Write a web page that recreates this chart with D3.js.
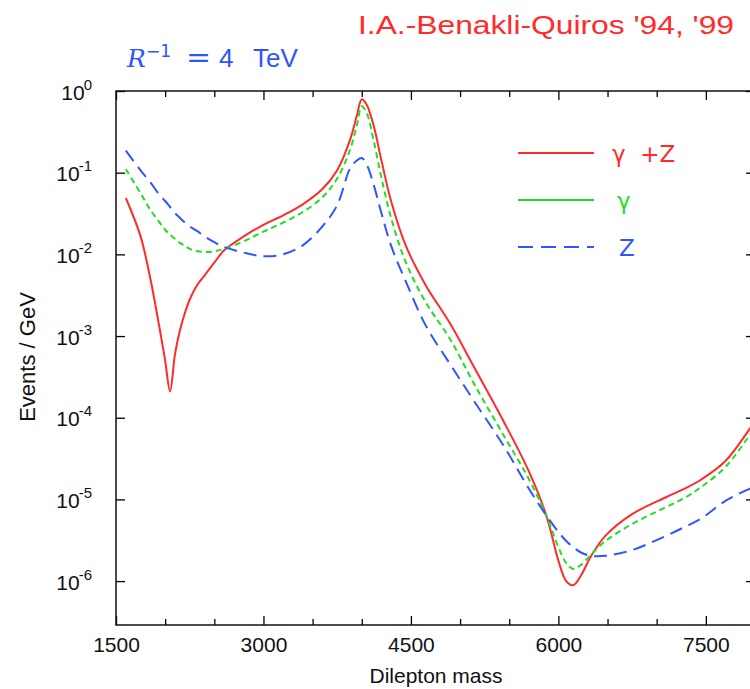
<!DOCTYPE html>
<html>
<head>
<meta charset="utf-8">
<script src="https://cdn.jsdelivr.net/npm/d3@7"></script>
<style>
body { margin: 0; background: #fff; }
svg { display: block; font-family: "Liberation Sans", Arial, sans-serif; }
</style>
</head>
<body>
<div id="chart"></div>
<script>
// dilepton mass grid (GeV)
const masses = [1600, 1750, 1850, 1950, 2000, 2050, 2100, 2150, 2200, 2250, 2320, 2400, 2500, 2600, 2800, 3000, 3200, 3400, 3600,
    3750, 3880, 3950, 4000, 4050, 4120, 4200, 4300, 4450, 4650, 4900, 5150, 5450, 5700, 5880, 6000,
    6080, 6150, 6230, 6330, 6480, 6750, 7100, 7300, 7450, 7700, 7950, 8000];

// events / GeV
const gammaZ = [4.9e-2, 1.66e-2, 5.0e-3, 1.12e-3, 5.0e-4, 2.1e-4, 6.0e-4, 1.17e-3, 1.9e-3, 2.8e-3, 4.1e-3, 5.5e-3, 7.9e-3, 1.12e-2, 1.66e-2, 2.3e-2, 3.0e-2, 4.1e-2, 6.3e-2,
    0.107, 0.25, 0.50, 0.79, 0.68, 0.38, 0.141, 4.4e-2, 1.26e-2, 4.2e-3, 1.41e-3, 4.0e-4, 8.7e-5, 2.2e-5, 6.2e-6, 1.78e-6,
    1.0e-6, 8.9e-7, 1.17e-6, 2.0e-6, 3.6e-6, 6.6e-6, 1.07e-5, 1.38e-5, 1.74e-5, 2.95e-5, 7.4e-5, 8.9e-5];
const gammaOnly = [0.11, 5.6e-2, 3.5e-2, 2.4e-2, 2.0e-2, 1.74e-2, 1.55e-2, 1.38e-2, 1.27e-2, 1.17e-2, 1.1e-2, 1.07e-2, 1.09e-2, 1.17e-2, 1.45e-2, 1.9e-2, 2.45e-2, 3.3e-2, 5.0e-2,
    8.5e-2, 0.19, 0.38, 0.65, 0.54, 0.25, 8.7e-2, 2.75e-2, 7.9e-3, 2.6e-3, 9.1e-4, 2.5e-4, 5.9e-5, 1.78e-5, 6.2e-6, 2.6e-6,
    1.66e-6, 1.41e-6, 1.58e-6, 2.1e-6, 3.1e-6, 5.0e-6, 8.1e-6, 1.07e-5, 1.41e-5, 2.5e-5, 6.2e-5, 7.4e-5];
const zOnly = [0.186, 0.107, 7.6e-2, 5.2e-2, 4.5e-2, 3.8e-2, 3.2e-2, 2.8e-2, 2.45e-2, 2.2e-2, 1.95e-2, 1.66e-2, 1.41e-2, 1.23e-2, 1.05e-2, 9.5e-3, 1.0e-2, 1.29e-2, 2.2e-2,
    4.0e-2, 0.112, 0.141, 0.151, 0.126, 7.2e-2, 3.2e-2, 1.26e-2, 4.6e-3, 1.35e-3, 4.5e-4, 1.55e-4, 4.4e-5, 1.35e-5, 6.3e-6, 4.0e-6,
    3.1e-6, 2.6e-6, 2.24e-6, 2.04e-6, 2.04e-6, 2.4e-6, 3.6e-6, 4.7e-6, 5.8e-6, 9.6e-6, 1.35e-5, 1.41e-5];

const xTicks = [1500, 2000, 2500, 3000, 3500, 4000, 4500, 5000, 5500, 6000, 6500, 7000, 7500];
const xMajor = [1500, 3000, 4500, 6000, 7500];
const yTicks = [1, 1e-1, 1e-2, 1e-3, 1e-4, 1e-5, 1e-6];
const yExponents = ["0", "-1", "-2", "-3", "-4", "-5", "-6"];

const seriesNames = ["\u03b3  +Z", "\u03b3", "Z"];
const seriesValues = [gammaZ, gammaOnly, zOnly];

const colors = ["#ff2b2b", "#1fe01f", "#2f55ff"];
const dashes = [null, "6,4", "13,7"];
const legendDashes = [null, null, "15,8"];

const width = 750, height = 689;
const margin = {top: 91, right: -5, bottom: 64, left: 116};

const svg = d3.select("#chart").append("svg")
    .attr("width", width)
    .attr("height", height);

const x = d3.scaleLinear()
    .domain([1500, 8000])
    .range([margin.left, width - margin.right]);

const y = d3.scaleLog()
    .domain([1, 2.9e-7])
    .range([margin.top, height - margin.bottom]);

// bottom axis
let xb = svg.append("g")
    .attr("transform", `translate(0,${y.range()[1]})`)
    .call(d3.axisBottom(x).tickValues(xTicks).tickSizeInner(-9).tickSizeOuter(0).tickPadding(12)
        .tickFormat(d => xMajor.includes(d) ? d : ""));
xb.select(".domain").remove();
xb.selectAll(".tick line").attr("y2", d => xMajor.includes(d) ? -9 : -6).attr("stroke-width", 1.3);
xb.selectAll(".tick text").attr("font-size", 21).attr("fill", "#111").attr("font-family", "Liberation Sans, Arial, sans-serif");

// top axis (ticks only)
let xt = svg.append("g")
    .attr("transform", `translate(0,${y.range()[0]})`)
    .call(d3.axisTop(x).tickValues(xTicks).tickSizeInner(-9).tickSizeOuter(0).tickFormat(""));
xt.select(".domain").remove();
xt.selectAll(".tick line").attr("y2", d => xMajor.includes(d) ? 9 : 6).attr("stroke-width", 1.3);

// left axis
let yl = svg.append("g")
    .attr("transform", `translate(${x.range()[0]},0)`)
    .call(d3.axisLeft(y).tickValues(yTicks).tickSizeInner(-9).tickSizeOuter(0).tickPadding(24).tickFormat(""));
yl.select(".domain").remove();
yl.selectAll(".tick line").attr("stroke-width", 1.3);
yl.selectAll(".tick text").each(function (d, i) {
    let t = d3.select(this)
        .attr("dy", null)
        .attr("y", 8)
        .attr("font-size", 21)
        .attr("fill", "#111")
        .attr("font-family", "Liberation Sans, Arial, sans-serif");
    t.append("tspan").text("10");
    t.append("tspan").attr("dy", -10).attr("dx", -1).attr("font-size", 15).text(yExponents[i]);
});

// right axis (ticks only, mostly off canvas)
let yr = svg.append("g")
    .attr("transform", `translate(${x.range()[1]},0)`)
    .call(d3.axisRight(y).tickValues(yTicks).tickSizeInner(-9).tickSizeOuter(0).tickFormat(""));
yr.select(".domain").remove();
yr.selectAll(".tick line").attr("stroke-width", 1.3);

// frame
svg.append("rect")
    .attr("x", x.range()[0])
    .attr("y", y.range()[0])
    .attr("width", x.range()[1] - x.range()[0])
    .attr("height", y.range()[1] - y.range()[0])
    .attr("fill", "none")
    .attr("stroke", "#111")
    .attr("stroke-width", 1.5);

// curves
const line = d3.line()
    .x(d => x(d[0]))
    .y(d => y(d[1]))
    .curve(d3.curveCatmullRom.alpha(0.5));

seriesValues.forEach((vals, i) => {
    svg.append("path")
        .datum(masses.map((m, j) => [m, vals[j]]))
        .attr("d", line)
        .attr("fill", "none")
        .attr("stroke", colors[i])
        .attr("stroke-width", 2)
        .attr("stroke-dasharray", dashes[i]);
});

// legend
const legendY = [153, 200, 247];
seriesNames.forEach((name, i) => {
    svg.append("line")
        .attr("x1", 518).attr("x2", 594)
        .attr("y1", legendY[i]).attr("y2", legendY[i])
        .attr("stroke", colors[i])
        .attr("stroke-width", 2)
        .attr("stroke-dasharray", legendDashes[i]);
    svg.append("text")
        .attr("x", i === 0 ? 612 : (i === 1 ? 617 : 619))
        .attr("y", legendY[i] + 9)
        .attr("font-size", 23)
        .attr("font-family", "DejaVu Sans, sans-serif")
        .attr("fill", colors[i])
        .style("white-space", "pre")
        .text(name);
});

// axis titles
svg.append("text")
    .attr("x", 436)
    .attr("y", 683)
    .attr("text-anchor", "middle")
    .attr("font-size", 21)
    .attr("fill", "#111")
    .text("Dilepton mass");

svg.append("text")
    .attr("transform", "translate(35,357) rotate(-90)")
    .attr("text-anchor", "middle")
    .attr("font-size", 22)
    .attr("fill", "#111")
    .text("Events / GeV");

// annotations
svg.append("text")
    .attr("x", 734)
    .attr("y", 34)
    .attr("text-anchor", "end")
    .attr("font-size", 26)
    .attr("fill", "#ff2b2b")
    .attr("textLength", 376)
    .attr("lengthAdjust", "spacingAndGlyphs")
    .text("I.A.-Benakli-Quiros '94, '99");

const blue = "#2f55ff";
svg.append("text").attr("x", 127).attr("y", 67).attr("font-size", 25)
    .attr("font-family", "DejaVu Serif, serif").attr("font-style", "italic").attr("fill", blue).text("R");
svg.append("text").attr("x", 146).attr("y", 57).attr("font-size", 17)
    .attr("font-family", "DejaVu Sans, sans-serif").attr("fill", blue).text("\u22121");
svg.append("text").attr("x", 186).attr("y", 67).attr("font-size", 28)
    .attr("font-family", "DejaVu Sans, sans-serif").attr("fill", blue)
    .attr("textLength", 25).attr("lengthAdjust", "spacingAndGlyphs").text("=");
svg.append("text").attr("x", 219).attr("y", 67).attr("font-size", 26).attr("fill", blue).text("4");
svg.append("text").attr("x", 253).attr("y", 67).attr("font-size", 26).attr("fill", blue).text("TeV");
</script>
</body>
</html>
